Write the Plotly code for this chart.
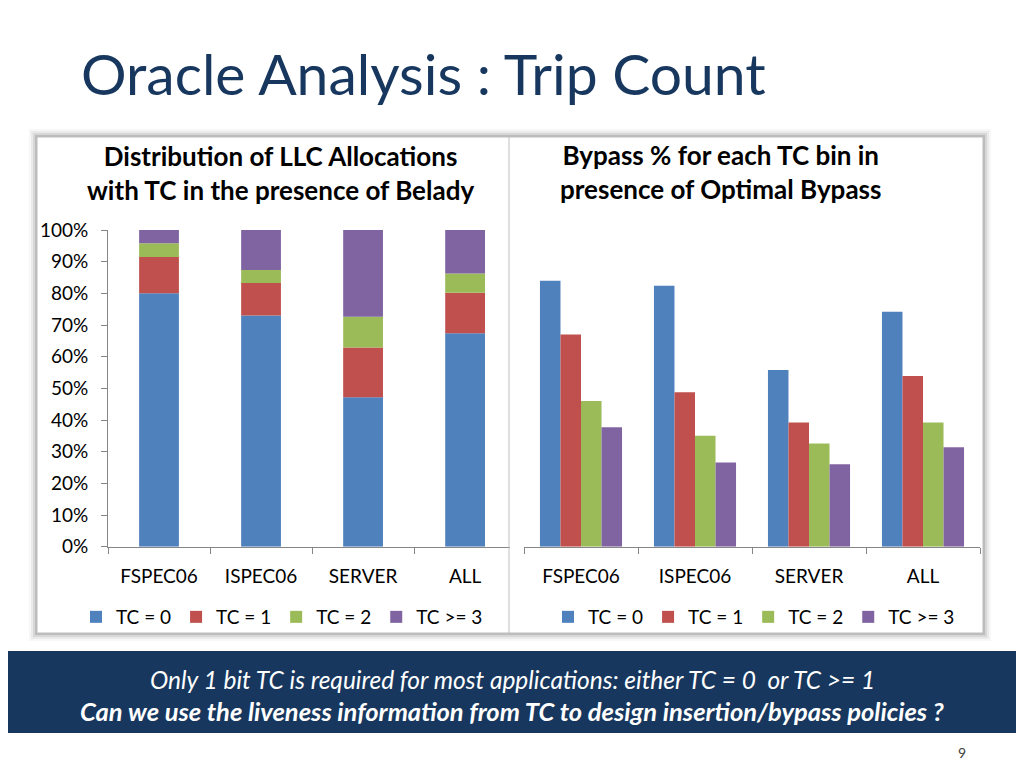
import plotly.graph_objects as go

# data
benchmarks = ['FSPEC06', 'ISPEC06', 'SERVER', 'ALL']
tc_bins = ['TC = 0', 'TC = 1', 'TC = 2', 'TC >= 3']
colors = ['#4F81BD', '#C0504D', '#9BBB59', '#8064A2']

# left chart: share of LLC allocations per TC bin (stacked to 100%)
alloc_tc0 = [80.0, 73.0, 47.2, 67.4]
alloc_tc1 = [11.5, 10.3, 15.7, 12.8]
alloc_tc2 = [4.3, 4.1, 9.7, 6.1]
alloc_tc3 = [4.2, 12.6, 27.4, 13.7]

# right chart: bypass % for each TC bin
bypass_tc0 = [84.0, 82.4, 55.8, 74.2]
bypass_tc1 = [67.0, 48.8, 39.2, 53.9]
bypass_tc2 = [46.0, 35.0, 32.6, 39.2]
bypass_tc3 = [37.7, 26.6, 26.0, 31.4]

y_ticks = list(range(0, 101, 10))
y_tick_labels = [f'{v}%' for v in y_ticks]

W, H = 1024, 768
FONT = 'Lato'
NAVY = '#17375E'
AXIS_GREY = '#868686'

# the page puts the figure a bit off the window corner, so screen pixels
# are converted to paper coordinates with that offset taken into account
X_OFF, Y_OFF, Y_SPAN = 8, 20, 745


def px(x):
    return (x - X_OFF) / W


def py(y):
    return 1 - (y - Y_OFF) / Y_SPAN


fig = go.Figure()

# stacked bars on the left (base built from the previous series)
alloc = [alloc_tc0, alloc_tc1, alloc_tc2, alloc_tc3]
base = [0.0] * len(benchmarks)
for name, vals, col in zip(tc_bins, alloc, colors):
    fig.add_trace(go.Bar(
        x=benchmarks, y=vals, base=list(base), name=name,
        marker=dict(color=col, line=dict(width=0)),
        width=0.39, offsetgroup='stack',
        xaxis='x', yaxis='y', legend='legend',
    ))
    base = [b + v for b, v in zip(base, vals)]

# grouped bars on the right
bypass = [bypass_tc0, bypass_tc1, bypass_tc2, bypass_tc3]
for i, (name, vals, col) in enumerate(zip(tc_bins, bypass, colors)):
    fig.add_trace(go.Bar(
        x=benchmarks, y=vals, name=name,
        marker=dict(color=col, line=dict(width=0)),
        offsetgroup=f'g{i}',
        xaxis='x2', yaxis='y2', legend='legend2',
    ))

# white chart box with a soft shadow
shapes = []
for pad, alpha in [(8, 0.03), (6, 0.05), (4, 0.08), (2, 0.12)]:
    shapes.append(dict(type='rect', xref='paper', yref='paper', layer='below',
                       x0=px(37 - pad), x1=px(983 + pad), y0=py(633 + pad), y1=py(137 - pad),
                       fillcolor=f'rgba(0,0,0,{alpha})', line=dict(width=0)))
shapes.append(dict(type='rect', xref='paper', yref='paper', layer='below',
                   x0=px(37), x1=px(983), y0=py(633), y1=py(137),
                   fillcolor='white', line=dict(color='#BDBDBD', width=1)))
# divider between the two charts
shapes.append(dict(type='line', xref='paper', yref='paper',
                   x0=px(509), x1=px(509), y0=py(633), y1=py(137),
                   line=dict(color='#BFBFBF', width=1)))
# bottom banner
shapes.append(dict(type='rect', xref='paper', yref='paper', layer='below',
                   x0=0, x1=1, y0=py(733), y1=py(651),
                   fillcolor=NAVY, line=dict(width=0)))

annotations = [
    dict(text='Oracle Analysis : Trip Count', x=px(79), y=py(73), xanchor='left', yanchor='middle',
         font=dict(family=FONT, size=57, color=NAVY)),
    dict(text='<b>Distribution of LLC Allocations<br>with TC in the presence of Belady</b>',
         x=px(280), y=py(173), xanchor='center', yanchor='middle',
         font=dict(family=FONT, size=26, color='black')),
    dict(text='<b>Bypass % for each TC bin in<br>presence of Optimal Bypass</b>',
         x=px(720), y=py(172), xanchor='center', yanchor='middle',
         font=dict(family=FONT, size=26, color='black')),
    dict(text='<i>Only 1 bit TC is required for most applications: either TC = 0  or TC >= 1</i>',
         x=px(512), y=py(679), xanchor='center', yanchor='middle',
         font=dict(family=FONT, size=24.5, color='white')),
    dict(text='<b><i>Can we use the liveness information from TC to design insertion/bypass policies ?</i></b>',
         x=px(512), y=py(711), xanchor='center', yanchor='middle',
         font=dict(family=FONT, size=25.5, color='white')),
    dict(text='9', x=px(962), y=py(752), xanchor='center', yanchor='middle',
         font=dict(family=FONT, size=14, color='#404040')),
]
for a in annotations:
    a.update(xref='paper', yref='paper', showarrow=False)

x_common = dict(type='category', showline=True, linecolor=AXIS_GREY, linewidth=1,
                ticks='outside', tickson='boundaries', ticklen=6, tickcolor=AXIS_GREY,
                ticklabelstandoff=12,
                tickfont=dict(family=FONT, size=19, color='black'),
                showgrid=False, zeroline=False, fixedrange=True)
y_dom = [py(546.7), py(230)]

legend_common = dict(orientation='h', xanchor='center', yanchor='middle',
                     font=dict(family=FONT, size=19, color='black'),
                     bgcolor='rgba(0,0,0,0)', traceorder='normal')

fig.update_layout(
    width=W, height=H,
    margin=dict(l=0, r=0, t=0, b=0),
    paper_bgcolor='white', plot_bgcolor='rgba(0,0,0,0)',
    barmode='group', bargap=0.28, bargroupgap=0,
    xaxis=dict(x_common, domain=[px(108), px(510)], range=[-0.5, 3.44], anchor='y'),
    yaxis=dict(domain=y_dom, range=[0, 100], tickvals=y_ticks, ticktext=y_tick_labels,
               showline=True, linecolor=AXIS_GREY, ticks='outside', ticklen=6, tickcolor=AXIS_GREY,
               ticklabelstandoff=9,
               tickfont=dict(family=FONT, size=19, color='black'),
               showgrid=False, zeroline=False, fixedrange=True, anchor='x'),
    xaxis2=dict(x_common, domain=[px(524), px(980)], anchor='y2'),
    yaxis2=dict(domain=y_dom, range=[0, 100], visible=False, anchor='x2', fixedrange=True),
    legend=dict(legend_common, x=px(282), y=py(617)),
    legend2=dict(legend_common, x=px(754), y=py(617)),
    shapes=shapes,
    annotations=annotations,
)

fig.write_html('out.html')
